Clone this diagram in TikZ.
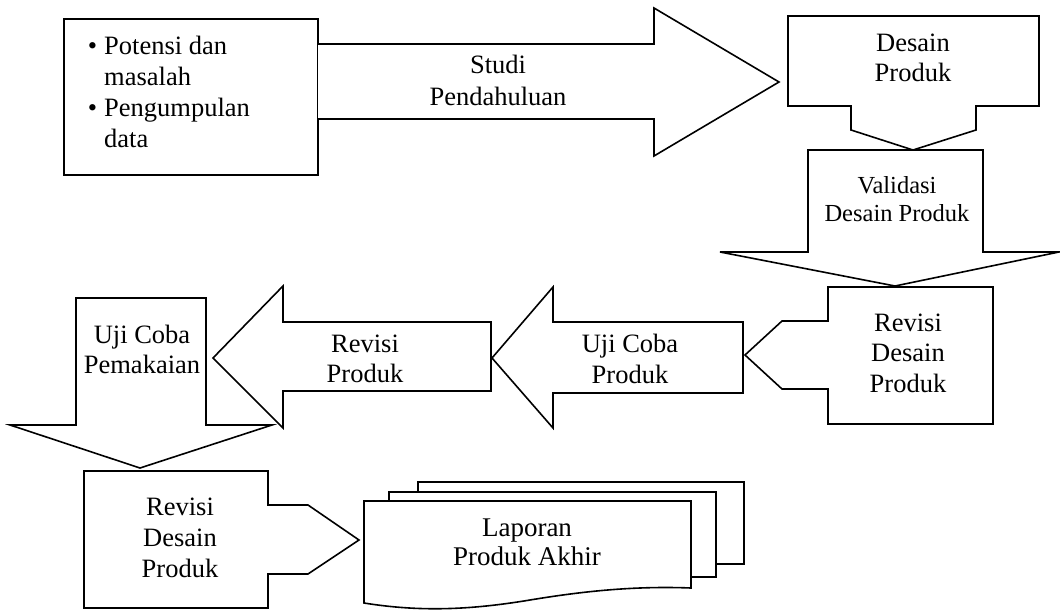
\documentclass[tikz,border=0pt]{standalone}
\usepackage{fontspec}
\setmainfont{Liberation Serif}
\newcommand{\mlines}[1]{\begin{tabular}[t]{@{}c@{}}#1\end{tabular}}
\newcommand{\mlinesl}[1]{\begin{tabular}[t]{@{}l@{}}#1\end{tabular}}
\tikzset{
  shp/.style={draw=black, fill=white, line width=1.6pt, line join=miter},
  lbl/.style={font=\fontsize{26.5}{31}\selectfont, inner sep=0pt, anchor=base, text=black},
}
\begin{document}
\begin{tikzpicture}[x=1pt, y=-1pt]
\useasboundingbox (0,0) rectangle (1060,610);
% shapes
\draw[shp] (64,19) rectangle (318,175);
\draw[shp] (318,44) -- (654,44) -- (654,8) -- (779,82) -- (654,156) -- (654,119) -- (318,119);
\draw[shp] (788,16) -- (1039,16) -- (1039,106) -- (976,106) -- (976,130) -- (913,150) -- (851,130) -- (851,106) -- (788,106) -- cycle;
\draw[shp] (808,150) -- (983,150) -- (983,252) -- (1059,252) -- (895,286) -- (720,252) -- (808,252) -- cycle;
\draw[shp] (828,287) -- (993,287) -- (993,424) -- (828,424) -- (828,389) -- (782,389) -- (745,355) -- (782,321) -- (828,321) -- cycle;
\draw[shp] (743,322) -- (553,322) -- (553,287) -- (492,358) -- (553,428) -- (553,393) -- (743,393) -- cycle;
\draw[shp] (491,322) -- (283,322) -- (283,286) -- (213,358) -- (283,428) -- (283,391) -- (491,391) -- cycle;
\draw[shp] (76,298) -- (206,298) -- (206,425) -- (272,425) -- (140,468) -- (10,425) -- (76,425) -- cycle;
\draw[shp] (84,471) -- (268,471) -- (268,505) -- (308,505) -- (359,540) -- (308,574) -- (268,574) -- (268,608) -- (84,608) -- cycle;
% document stack
\draw[shp] (418,482) rectangle (744,564);
\draw[shp] (389,492) rectangle (716,577);
\draw[shp] (364,501) -- (691,501) -- (691,588) .. controls (640,586) and (590,590) .. (530,600) .. controls (470,610) and (420,612) .. (364,603) -- cycle;
% texts
\node[lbl, anchor=base west] (t1) at (104,55) {\mlinesl{\llap{\textbullet\hspace{7pt}}Potensi dan\\masalah\\\llap{\textbullet\hspace{7pt}}Pengumpulan\\data}};
\node[lbl, font=\fontsize{26.5}{32}\selectfont] (t2) at (498,74) {\mlines{Studi\\Pendahuluan}};
\node[lbl, font=\fontsize{26.5}{30}\selectfont] (t3) at (913,52) {\mlines{Desain\\Produk}};
\node[lbl, font=\fontsize{24.5}{28}\selectfont] (t4) at (897,193) {\mlines{Validasi\\Desain Produk}};
\node[lbl, font=\fontsize{26.5}{30.5}\selectfont] (t5) at (908,331) {\mlines{Revisi\\Desain\\Produk}};
\node[lbl] (t6) at (630,352) {\mlines{Uji Coba\\Produk}};
\node[lbl, font=\fontsize{26.5}{30}\selectfont] (t7) at (365,352) {\mlines{Revisi\\Produk}};
\node[lbl, font=\fontsize{26.5}{30.5}\selectfont] (t8) at (142,343) {\mlines{Uji Coba\\Pemakaian}};
\node[lbl] (t9) at (180,515) {\mlines{Revisi\\Desain\\Produk}};
\node[lbl, font=\fontsize{27}{29.5}\selectfont] (t10) at (527,536) {\mlines{Laporan\\Produk Akhir}};
\end{tikzpicture}
\end{document}
